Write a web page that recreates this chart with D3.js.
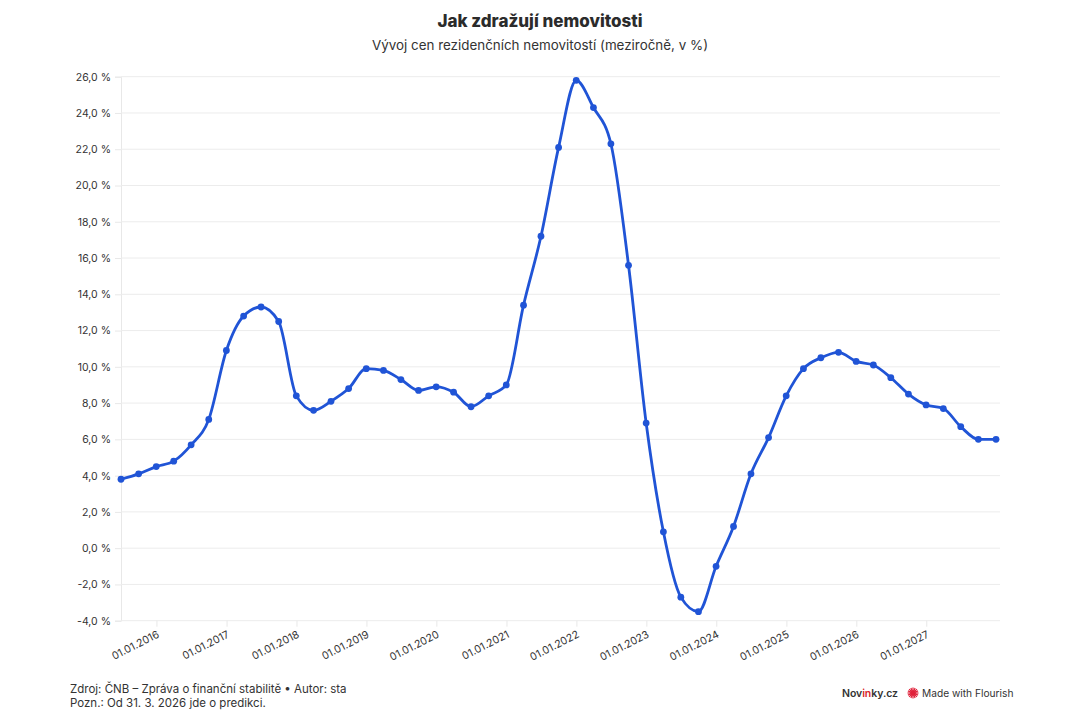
<!DOCTYPE html>
<html>
<head>
<meta charset="utf-8">
<script src="https://cdn.jsdelivr.net/npm/d3@7"></script>
<style>
  html, body { margin: 0; padding: 0; background: #ffffff; }
  svg { display: block; }
  text { font-family: Inter, "Noto Sans", sans-serif; }
</style>
</head>
<body>
<svg id="chart" width="1080" height="720"></svg>
<script>
// ---- data (quarter-end dates, year-on-year % change) ----
const dates = [
  "2015-06-30","2015-09-30","2015-12-31",
  "2016-03-31","2016-06-30","2016-09-30","2016-12-31",
  "2017-03-31","2017-06-30","2017-09-30","2017-12-31",
  "2018-03-31","2018-06-30","2018-09-30","2018-12-31",
  "2019-03-31","2019-06-30","2019-09-30","2019-12-31",
  "2020-03-31","2020-06-30","2020-09-30","2020-12-31",
  "2021-03-31","2021-06-30","2021-09-30","2021-12-31",
  "2022-03-31","2022-06-30","2022-09-30","2022-12-31",
  "2023-03-31","2023-06-30","2023-09-30","2023-12-31",
  "2024-03-31","2024-06-30","2024-09-30","2024-12-31",
  "2025-03-31","2025-06-30","2025-09-30","2025-12-31",
  "2026-03-31","2026-06-30","2026-09-30","2026-12-31",
  "2027-03-31","2027-06-30","2027-09-30","2027-12-31"
];
const values = [
  3.8, 4.1, 4.5,
  4.8, 5.7, 7.1, 10.9,
  12.8, 13.3, 12.5, 8.4,
  7.6, 8.1, 8.8, 9.9,
  9.8, 9.3, 8.7, 8.9,
  8.6, 7.8, 8.4, 9.0,
  13.4, 17.2, 22.1, 25.8,
  24.3, 22.3, 15.6, 6.9,
  0.9, -2.7, -3.5, -1.0,
  1.2, 4.1, 6.1, 8.4,
  9.9, 10.5, 10.8, 10.3,
  10.1, 9.4, 8.5, 7.9,
  7.7, 6.7, 6.0, 6.0
];
const yTicks = [-4, -2, 0, 2, 4, 6, 8, 10, 12, 14, 16, 18, 20, 22, 24, 26];
const xTickYears = [2016, 2017, 2018, 2019, 2020, 2021, 2022, 2023, 2024, 2025, 2026, 2027];

const title = "Jak zdražují nemovitosti";
const subtitle = "Vývoj cen rezidenčních nemovitostí (meziročně, v %)";
const footer1 = "Zdroj: ČNB – Zpráva o finanční stabilitě • Autor: sta";
const footer2 = "Pozn.: Od 31. 3. 2026 jde o predikci.";

// ---- setup ----
const parse = d3.timeParse("%Y-%m-%d");
const data = dates.map((d, i) => ({ date: parse(d), value: values[i] }));

const svg = d3.select("#chart");
const plotLeft = 121, plotRight = 1000, plotTop = 76.7, plotBottom = 620.7;

const x = d3.scaleTime()
  .domain([parse("2015-06-30"), parse("2027-12-31")])
  .range([121, 996]);
const y = d3.scaleLinear().domain([-4, 26]).range([plotBottom, plotTop]);

const lineColor = "#2054d6";
const textColor = "#333333";

// title
svg.append("text")
  .attr("x", 540).attr("y", 27)
  .attr("text-anchor", "middle")
  .attr("font-size", 17).attr("font-weight", 800)
  .attr("fill", "#2b2b2b")
  .text(title);
svg.append("text")
  .attr("x", 540).attr("y", 50)
  .attr("text-anchor", "middle")
  .attr("font-size", 13.4)
  .attr("fill", textColor)
  .text(subtitle);

// grid + y axis
const yAxis = d3.axisLeft(y)
  .tickValues(yTicks)
  .tickSize(6)
  .tickPadding(4)
  .tickFormat(d => d3.format(".1f")(d).replace(".", ",").replace("−", "-") + " %");

const gy = svg.append("g")
  .attr("transform", `translate(${plotLeft},0)`)
  .call(yAxis);
gy.select(".domain").attr("stroke", "#e8e8e8");
gy.selectAll(".tick line").attr("stroke", "#e8e8e8");
gy.selectAll(".tick text")
  .attr("fill", textColor)
  .attr("font-size", 10.5)
  .attr("font-family", "Inter, 'Noto Sans', sans-serif");

svg.append("g")
  .selectAll("line")
  .data(yTicks)
  .join("line")
  .attr("x1", plotLeft).attr("x2", plotRight)
  .attr("y1", d => y(d)).attr("y2", d => y(d))
  .attr("stroke", "#ececec")
  .attr("stroke-width", 1);

// x axis
const xTickDates = xTickYears.map(yr => new Date(yr, 0, 1));
const xAxis = d3.axisBottom(x)
  .tickValues(xTickDates)
  .tickSize(6)
  .tickFormat(d3.timeFormat("%d.%m.%Y"));

const gx = svg.append("g")
  .attr("transform", `translate(0,${plotBottom})`)
  .call(xAxis);
gx.select(".domain").remove();
gx.selectAll(".tick line").attr("stroke", "#e8e8e8");
gx.selectAll(".tick text")
  .attr("fill", textColor)
  .attr("font-size", 10.5)
  .attr("font-family", "Inter, 'Noto Sans', sans-serif")
  .attr("text-anchor", "end")
  .attr("dy", 0)
  .attr("y", 0)
  .attr("transform", "translate(3,16) rotate(-27)");

// line
const line = d3.line()
  .x(d => x(d.date))
  .y(d => y(d.value))
  .curve(d3.curveMonotoneX);

svg.append("path")
  .datum(data)
  .attr("fill", "none")
  .attr("stroke", lineColor)
  .attr("stroke-width", 2.8)
  .attr("stroke-linejoin", "round")
  .attr("d", line);

svg.append("g")
  .selectAll("circle")
  .data(data)
  .join("circle")
  .attr("cx", d => x(d.date))
  .attr("cy", d => y(d.value))
  .attr("r", 3.4)
  .attr("fill", lineColor);

// footer
svg.append("text")
  .attr("x", 70).attr("y", 693)
  .attr("font-size", 11.5).attr("fill", textColor)
  .text(footer1);
svg.append("text")
  .attr("x", 70).attr("y", 707)
  .attr("font-size", 11.5).attr("fill", textColor)
  .text(footer2);

// Novinky.cz logo text
const nov = svg.append("text")
  .attr("x", 842).attr("y", 697)
  .attr("font-size", 10.5).attr("font-weight", 600).attr("fill", "#333333")
  .attr("textLength", 56);
nov.append("tspan").text("Nov");
nov.append("tspan").attr("fill", "#d71f2b").text("in");
nov.append("tspan").text("ky.cz");

// Flourish mark
const fl = svg.append("g").attr("transform", "translate(913,693)");
const spikes = d3.range(16);
fl.selectAll("line")
  .data(spikes)
  .join("line")
  .attr("x1", 0).attr("y1", 0)
  .attr("x2", d => 5.5 * Math.cos(d / 16 * 2 * Math.PI))
  .attr("y2", d => 5.5 * Math.sin(d / 16 * 2 * Math.PI))
  .attr("stroke", "#e0213a").attr("stroke-width", 1.2);
fl.append("circle").attr("r", 2.8).attr("fill", "#e0213a");

svg.append("text")
  .attr("x", 922).attr("y", 697)
  .attr("font-size", 10.2).attr("fill", "#333333")
  .text("Made with Flourish");
</script>
</body>
</html>
